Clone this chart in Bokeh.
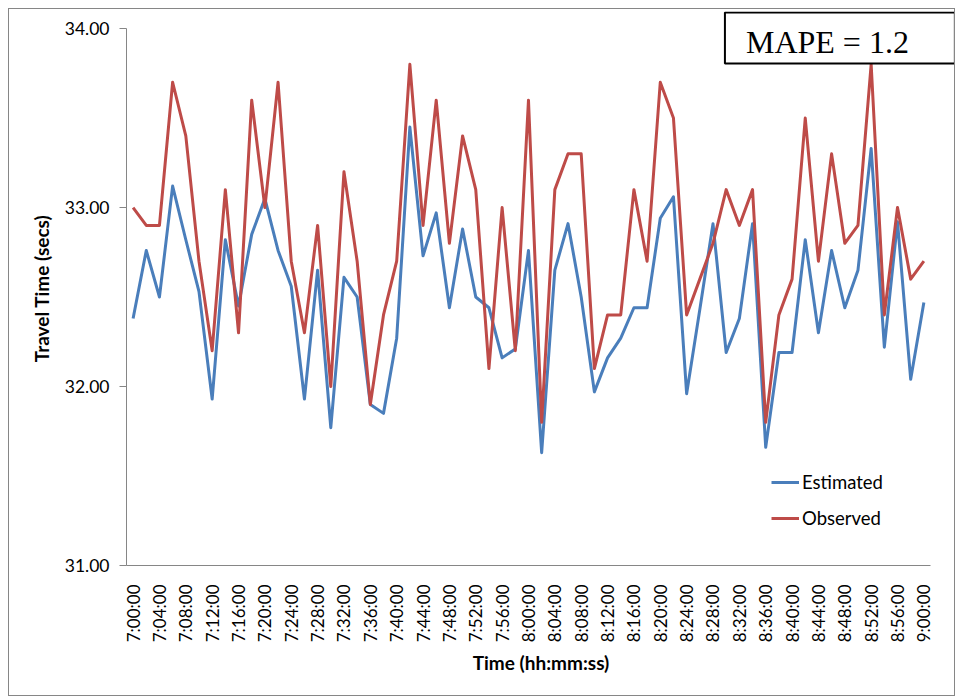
import math
from bokeh.plotting import figure
from bokeh.models import (Range1d, FixedTicker, NumeralTickFormatter, Legend,
                          LegendItem, Label)
from bokeh.embed import file_html
from bokeh.resources import INLINE

# ---- data (minutes after 7:00:00, 2-minute intervals) ----
minutes = list(range(0, 121, 2))
estimated = [32.38, 32.76, 32.50, 33.12, 32.82, 32.53, 31.93, 32.82, 32.45, 32.85,
             33.05, 32.76, 32.56, 31.93, 32.65, 31.77, 32.61, 32.50, 31.90, 31.85,
             32.27, 33.45, 32.73, 32.97, 32.44, 32.88, 32.50, 32.44, 32.16, 32.21,
             32.76, 31.63, 32.65, 32.91, 32.50, 31.97, 32.16, 32.27, 32.44, 32.44,
             32.94, 33.06, 31.96, 32.43, 32.91, 32.19, 32.38, 32.91, 31.66, 32.19,
             32.19, 32.82, 32.30, 32.76, 32.44, 32.65, 33.33, 32.22, 32.92, 32.04,
             32.47]
observed = [33.0, 32.9, 32.9, 33.7, 33.4, 32.7, 32.2, 33.1, 32.3, 33.6,
            33.0, 33.7, 32.7, 32.3, 32.9, 32.0, 33.2, 32.7, 31.9, 32.4,
            32.7, 33.8, 32.9, 33.6, 32.8, 33.4, 33.1, 32.1, 33.0, 32.2,
            33.6, 31.8, 33.1, 33.3, 33.3, 32.1, 32.4, 32.4, 33.1, 32.7,
            33.7, 33.5, 32.4, 32.6, 32.8, 33.1, 32.9, 33.1, 31.8, 32.4,
            32.6, 33.5, 32.7, 33.3, 32.8, 32.9, 33.8, 32.4, 33.0, 32.6,
            32.7]
tick_minutes = list(range(0, 121, 4))
tick_labels = ["7:00:00", "7:04:00", "7:08:00", "7:12:00", "7:16:00", "7:20:00",
               "7:24:00", "7:28:00", "7:32:00", "7:36:00", "7:40:00", "7:44:00",
               "7:48:00", "7:52:00", "7:56:00", "8:00:00", "8:04:00", "8:08:00",
               "8:12:00", "8:16:00", "8:20:00", "8:24:00", "8:28:00", "8:32:00",
               "8:36:00", "8:40:00", "8:44:00", "8:48:00", "8:52:00", "8:56:00",
               "9:00:00"]
y_ticks = [31, 32, 33, 34]
mape_text = "MAPE = 1.2"

BLUE = "#4A7EBB"
RED = "#BE4B48"
GRAY = "#868686"
FONT = "Lato"

# frame extends a little beyond the axes so the MAPE box is not clipped;
# axis lines are bounded to the real data extent.
p = figure(width=947, height=688, output_backend="svg", toolbar_location=None,
           x_range=Range1d(-1, 124.8), y_range=Range1d(31, 34.0953),
           min_border_left=117, min_border_right=1, min_border_top=2,
           min_border_bottom=132)
p.styles = {"border": "1px solid " + GRAY, "box-sizing": "border-box",
            "margin-left": "8px", "margin-top": "8px"}
p.xgrid.visible = False
p.ygrid.visible = False
p.outline_line_color = None
p.background_fill_color = "white"
p.border_fill_color = "white"

r_est = p.line(minutes, estimated, line_color=BLUE, line_width=3, line_join="round")
r_obs = p.line(minutes, observed, line_color=RED, line_width=3, line_join="round")

xa = p.xaxis[0]
xa.bounds = (-1, 121)
xa.ticker = FixedTicker(ticks=tick_minutes)
xa.major_label_overrides = {m: l for m, l in zip(tick_minutes, tick_labels)}
xa.major_label_orientation = math.pi / 2
xa.major_tick_out = 0
xa.major_tick_in = 0
xa.minor_tick_out = 0
xa.minor_tick_in = 0
xa.axis_line_color = GRAY
xa.major_label_standoff = 19
xa.major_label_text_font = FONT
xa.major_label_text_font_size = "17px"
xa.major_label_text_color = "black"
xa.axis_label = "Time (hh:mm:ss)"
xa.axis_label_text_font = FONT
xa.axis_label_text_font_style = "bold"
xa.axis_label_text_font_size = "19px"
xa.axis_label_text_color = "black"
xa.axis_label_standoff = 6

ya = p.yaxis[0]
ya.bounds = (31, 34)
ya.ticker = FixedTicker(ticks=y_ticks)
ya.formatter = NumeralTickFormatter(format="0.00")
ya.major_tick_out = 7
ya.major_tick_in = 0
ya.minor_tick_out = 0
ya.minor_tick_in = 0
ya.axis_line_color = GRAY
ya.major_tick_line_color = GRAY
ya.major_label_standoff = 10
ya.major_label_text_font = FONT
ya.major_label_text_font_size = "17.5px"
ya.major_label_text_color = "black"
ya.axis_label = "Travel Time (secs)"
ya.axis_label_text_font = FONT
ya.axis_label_text_font_style = "bold"
ya.axis_label_text_font_size = "19px"
ya.axis_label_text_color = "black"
ya.axis_label_standoff = 9

legend = Legend(items=[LegendItem(label="Estimated", renderers=[r_est]),
                       LegendItem(label="Observed", renderers=[r_obs])],
                location=(645, 36), glyph_width=28, glyph_height=20,
                label_height=20, spacing=14, padding=0, margin=0,
                border_line_color=None, background_fill_alpha=0,
                label_standoff=3, label_text_font=FONT,
                label_text_font_size="18.5px", label_text_color="black")
p.add_layout(legend)

lbl = Label(x=89.81, y=34.0897, anchor="top_left", text=mape_text,
            text_font="Liberation Serif", text_font_size="32px",
            text_align="left", text_baseline="top", text_color="black",
            padding=dict(left=21, right=46, top=11, bottom=4),
            border_line_color="black", border_line_width=2,
            background_fill_color="white", background_fill_alpha=1.0)
p.add_layout(lbl)

open("out.html", "w").write(file_html(p, INLINE))
